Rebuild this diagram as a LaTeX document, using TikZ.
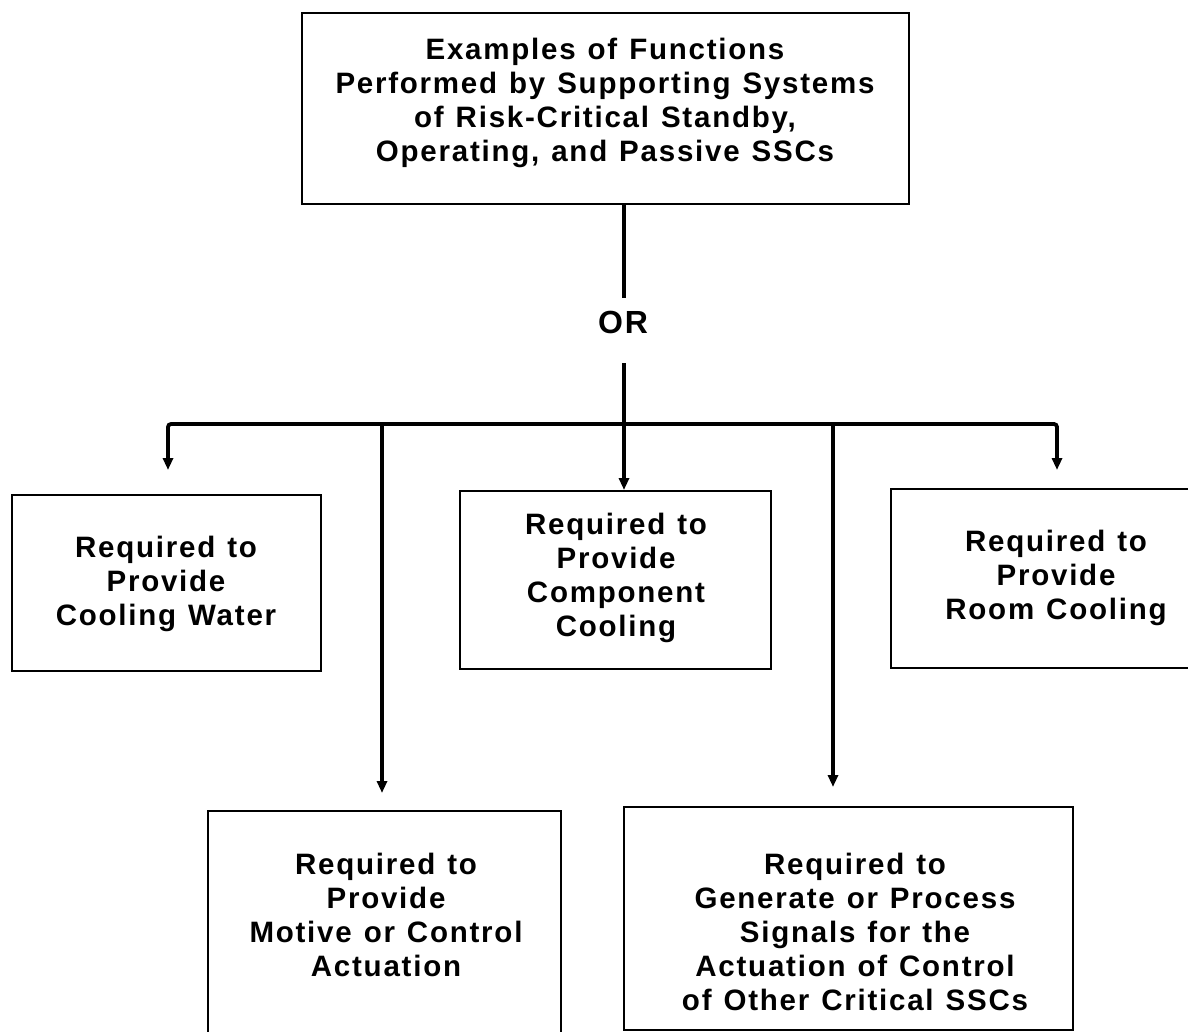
\documentclass[tikz,border=0pt]{standalone}
\usepackage{fontspec}
\usetikzlibrary{arrows.meta}
\newfontfamily\chartfont{Liberation Sans}[LetterSpace=6, WordSpace=1.2]
\begin{document}
\begin{tikzpicture}[x=1pt, y=-1pt,
  box/.style={draw, line width=1.6pt, inner sep=0pt, anchor=north west},
  txt/.style={font=\chartfont\bfseries\fontsize{29.5}{34}\selectfont, align=center, inner sep=0pt},
  conn/.style={line width=3.8pt},
  tip/.style={-{Triangle[width=10pt,length=12pt]}}]
\useasboundingbox (0,0) rectangle (1188,1032);

% top box
\node[box, minimum width=607pt, minimum height=191pt] (top) at (301,12) {};
\node[txt] (toptxt) at (605,103) {Examples of Functions\\Performed by Supporting Systems\\of Risk-Critical Standby,\\Operating, and Passive SSCs};

% OR label
\node[txt, font=\chartfont\bfseries\fontsize{32}{36}\selectfont] (or) at (623,322) {OR};

% first row of boxes
\node[box, minimum width=309pt, minimum height=176pt] (cw) at (11,494) {};
\node[txt] (cwtxt) at (166,584) {Required to\\Provide\\Cooling Water};
\node[box, minimum width=311pt, minimum height=178pt] (cc) at (459,490) {};
\node[txt] (cctxt) at (616,578) {Required to\\Provide\\Component\\Cooling};
\node[box, minimum width=320pt, minimum height=179pt] (rc) at (890,488) {};
\node[txt] (rctxt) at (1056,578) {Required to\\Provide\\Room Cooling};

% second row of boxes
\node[box, minimum width=353pt, minimum height=250pt] (ma) at (207,810) {};
\node[txt] (matxt) at (386,915) {Required to\\Provide\\Motive or Control\\Actuation};
\node[box, minimum width=449pt, minimum height=223pt] (sg) at (623,806) {};
\node[txt] (sgtxt) at (855,932) {Required to\\Generate or Process\\Signals for the\\Actuation of Control\\of Other Critical SSCs};

% trunk and bus coordinates
\coordinate (t1) at (624,298);
\coordinate (t2) at (624,363);
\coordinate (j) at (624,424);
\coordinate (bl) at (168,424);
\coordinate (br) at (1057,424);
\coordinate (b2) at (382,424);
\coordinate (b4) at (833,424);

% trunk from the top box, broken around OR
\draw[conn] (top.south -| j) -- (t1);
\draw[conn] (t2) -- (j);

% horizontal bus with the two outer arrows
\draw[conn, {Triangle[width=10pt,length=12pt]}-{Triangle[width=10pt,length=12pt]},
      rounded corners=3pt, shorten <=24pt, shorten >=18pt]
  (bl |- cw.north) -- (bl) -- (br) -- (br |- rc.north);

% inner arrows
\draw[conn, tip] (j) -- (j |- cc.north);
\draw[conn, tip, shorten >=17pt] (b2) -- (b2 |- ma.north);
\draw[conn, tip, shorten >=19pt] (b4) -- (b4 |- sg.north);
\end{tikzpicture}
\end{document}
